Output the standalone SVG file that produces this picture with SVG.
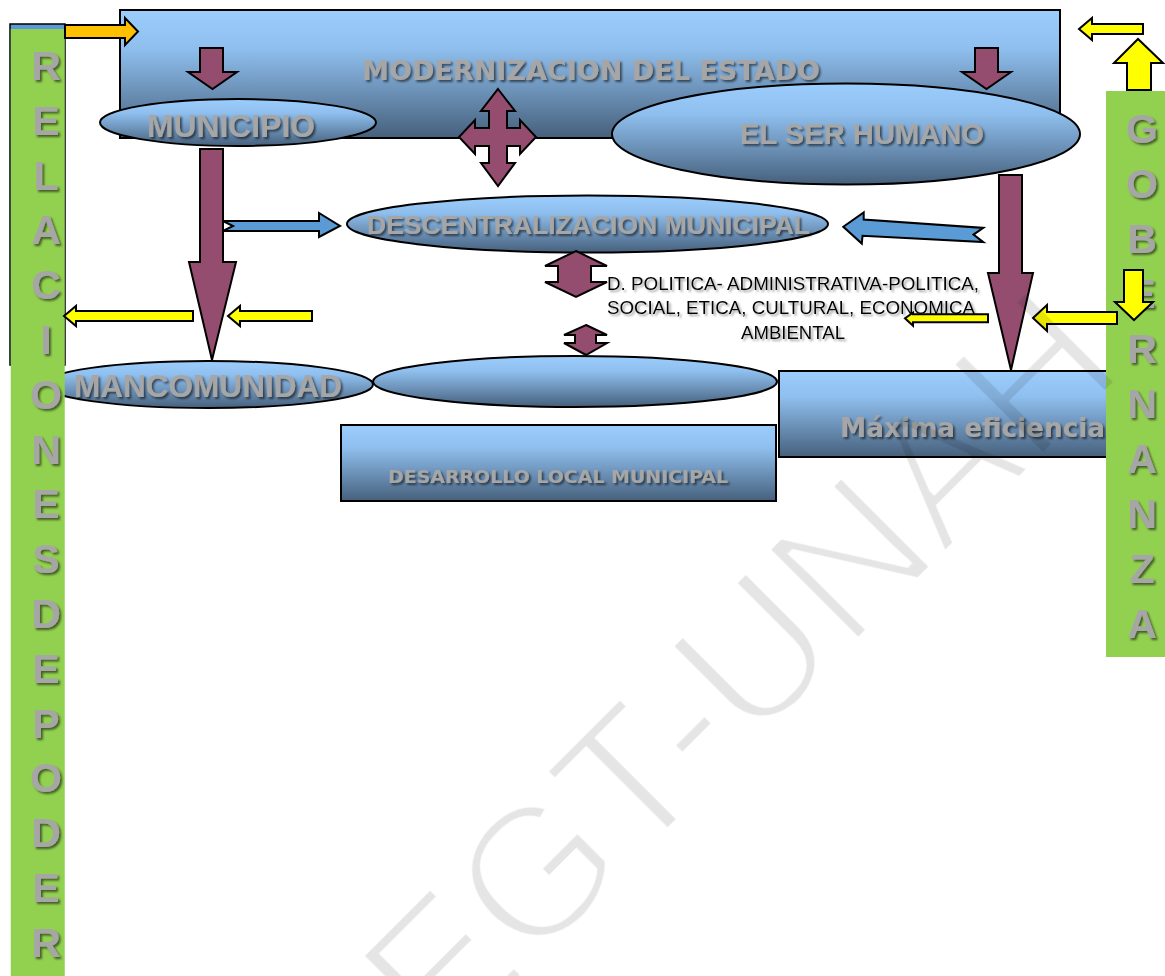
<svg xmlns="http://www.w3.org/2000/svg" width="1165" height="976" viewBox="0 0 1165 976">
<defs>
<linearGradient id="gb" x1="0" y1="0" x2="0" y2="1">
<stop offset="0" stop-color="#9bcdfd"/><stop offset="0.3" stop-color="#8fbfee"/><stop offset="1" stop-color="#46607c"/>
</linearGradient>
<filter id="ts" x="-10%" y="-30%" width="120%" height="160%">
<feDropShadow dx="2" dy="2" stdDeviation="0.8" flood-color="#000" flood-opacity="0.55"/>
</filter>
<filter id="tsl" x="-10%" y="-30%" width="120%" height="160%">
<feDropShadow dx="2" dy="2" stdDeviation="0.8" flood-color="#777" flood-opacity="0.7"/>
</filter>
<filter id="thin" x="-5%" y="-5%" width="110%" height="110%">
<feMorphology operator="erode" radius="3"/>
</filter>
<style>
.box{fill:url(#gb);stroke:#000;stroke-width:2}
.lbl{font-family:"Liberation Sans",Arial,sans-serif;font-weight:bold;fill:#a6a6a6;filter:url(#ts)}
.vlbl{font-family:"DejaVu Sans",Verdana,sans-serif;font-weight:bold;fill:#a6a6a6;filter:url(#ts)}
.bar{font-family:"Liberation Sans",Arial,sans-serif;font-weight:bold;font-size:41px;fill:#a6a6a6;filter:url(#ts);text-anchor:middle}
.mar{fill:#944d6f;stroke:#000;stroke-width:2}
.yel{fill:#ffff00;stroke:#000;stroke-width:2}
.blu{fill:#5b9bd5;stroke:#000;stroke-width:2}
.org{fill:#ffc000;stroke:#000;stroke-width:2}
.dtxt{font-family:"Liberation Sans",Arial,sans-serif;font-size:18px;fill:#000;filter:url(#tsl);text-anchor:middle}
</style>
</defs>
<rect width="1165" height="976" fill="#fff"/>

<g id="modernizacion">
<rect class="box" x="120" y="10" width="940" height="128"/>
<text class="vlbl" x="362" y="80" font-size="27" textLength="458" lengthAdjust="spacingAndGlyphs">MODERNIZACION DEL ESTADO</text>
</g>

<g id="mancomunidad">
<ellipse class="box" cx="208" cy="384.5" rx="165" ry="23.5"/>
<text class="lbl" x="74" y="397" font-size="31" textLength="268" lengthAdjust="spacingAndGlyphs">MANCOMUNIDAD</text>
</g>

<g id="relaciones">
<rect x="10" y="24" width="55" height="341" fill="#5b9bd5" stroke="#000" stroke-width="1.5"/>
<rect x="10.75" y="29" width="54" height="947" fill="#92d050"/>
<text class="bar"><tspan x="46" y="80">R</tspan><tspan x="46" y="134.8">E</tspan><tspan x="46" y="189.6">L</tspan><tspan x="46" y="244.4">A</tspan><tspan x="46" y="299.2">C</tspan><tspan x="46" y="354">I</tspan><tspan x="46" y="408.8">O</tspan><tspan x="46" y="463.6">N</tspan><tspan x="46" y="518.4">E</tspan><tspan x="46" y="573.2">S</tspan><tspan x="46" y="628">D</tspan><tspan x="46" y="682.8">E</tspan><tspan x="46" y="737.6">P</tspan><tspan x="46" y="792.4">O</tspan><tspan x="46" y="847.2">D</tspan><tspan x="46" y="902">E</tspan><tspan x="46" y="956.8">R</tspan></text>
</g>

<g id="municipio">
<ellipse class="box" cx="238" cy="122.5" rx="138" ry="23.5"/>
<text class="lbl" x="147" y="137" font-size="31" textLength="168" lengthAdjust="spacingAndGlyphs">MUNICIPIO</text>
</g>

<g id="ser-humano">
<ellipse class="box" cx="846" cy="134" rx="234" ry="50.5"/>
<text class="lbl" x="740" y="144" font-size="29" textLength="244" lengthAdjust="spacingAndGlyphs">EL SER HUMANO</text>
</g>

<g id="descentralizacion">
<ellipse class="box" cx="587.5" cy="224" rx="240.5" ry="28.5"/>
<text class="lbl" x="367" y="234" font-size="26" textLength="443" lengthAdjust="spacingAndGlyphs">DESCENTRALIZACION MUNICIPAL</text>
</g>

<g id="dimensiones">
<text class="dtxt"><tspan x="793" y="290" textLength="372" lengthAdjust="spacingAndGlyphs">D. POLITICA- ADMINISTRATIVA-POLITICA,</tspan><tspan x="791" y="314" textLength="368" lengthAdjust="spacingAndGlyphs">SOCIAL, ETICA, CULTURAL, ECONOMICA</tspan><tspan x="793" y="339" textLength="104" lengthAdjust="spacingAndGlyphs">AMBIENTAL</tspan></text>
</g>

<g id="ovalo-vacio">
<ellipse class="box" cx="575" cy="381.5" rx="202" ry="25.5"/>
</g>

<g id="desarrollo-local">
<rect class="box" x="341" y="425" width="435" height="76"/>
<text class="vlbl" x="388" y="483" font-size="17" textLength="340" lengthAdjust="spacingAndGlyphs">DESARROLLO LOCAL MUNICIPAL</text>
</g>

<g id="maxima-eficiencia">
<rect class="box" x="779" y="371" width="346" height="86"/>
<text class="vlbl" x="840" y="437" font-size="26" textLength="265" lengthAdjust="spacingAndGlyphs">Máxima eficiencia</text>
</g>

<g id="gobernanza">
<rect x="1106" y="91" width="59" height="566" fill="#92d050"/>
<text class="bar" font-size="40"><tspan x="1142" y="143">G</tspan><tspan x="1142" y="198">O</tspan><tspan x="1142" y="253">B</tspan><tspan x="1142" y="308">E</tspan><tspan x="1142" y="363">R</tspan><tspan x="1142" y="418">N</tspan><tspan x="1142" y="473">A</tspan><tspan x="1142" y="528">N</tspan><tspan x="1142" y="583">Z</tspan><tspan x="1142" y="638">A</tspan></text>
</g>

<g id="connectors">
<polygon class="org" points="65,25 125,25 125,18 138,31.5 125,45 125,38 65,38"/>
<polygon class="mar" points="200,48 223,48 223,72 237,72 212.5,89 188,72 200,72"/>
<polygon class="mar" points="975,48 998,48 998,72 1011,72 986.5,89 962,72 975,72"/>
<polygon class="mar" points="498,89 515,111 507,111 507,128 520,128 520,120 536,137 520,154 520,146 507,146 507,163 515,163 498,186 481,163 489,163 489,146 475,146 475,154 459,137 475,120 475,128 489,128 489,111 481,111"/>
<polygon class="mar" points="200,149 223,149 223,262 236,262 212,360 189,262 200,262"/>
<polygon class="mar" points="999,175 1022,175 1022,273 1033,273 1011,370 988,273 999,273"/>
<polygon class="blu" points="223,221 319,221 319,213 340,226 319,237 319,231 223,231 233,226"/>
<polygon class="blu" points="843.3,226.8 863.7,212.5 863.7,219.6 983.3,227.9 973.5,234.6 983.3,242.1 862.5,235.7 861.8,243.6"/>
<polygon class="mar" points="576,251 607,266 591,266 591,282 607,282 576,297 545,282 558,282 558,266 545,266"/>
<polygon class="mar" points="586,325 607,335 596,335 596,343 607,343 586,355 564,343 575,343 575,335 564,335"/>
<polygon class="yel" points="193,311 76,311 76,306 64,316 76,326 76,321 193,321"/>
<polygon class="yel" points="312,311 240,311 240,306 228,316 240,326 240,321 312,321"/>
<polygon class="yel" points="988,314.3 913,314.3 913,312.7 905,318.3 913,325.7 913,322.3 988,322.3"/>
<polygon class="yel" points="1117,312 1047,312 1047,305 1033,318 1047,331 1047,324 1117,324"/>
<polygon class="yel" points="1143,24 1092,24 1092,18 1079,29 1092,40 1092,34 1143,34"/>
<polygon class="yel" points="1127,90 1127,63 1114,63 1138,39 1163,63 1151,63 1151,90"/>
<polygon class="yel" points="1124,270 1143,270 1143,302 1153,302 1134,320 1115,302 1124,302"/>
</g>

<text x="0" y="0" transform="translate(441,1058) rotate(-45)" font-family="Liberation Sans, Arial, sans-serif" font-size="188" fill="#000" fill-opacity="0.1" filter="url(#thin)">EGT-UNAH</text>
</svg>
